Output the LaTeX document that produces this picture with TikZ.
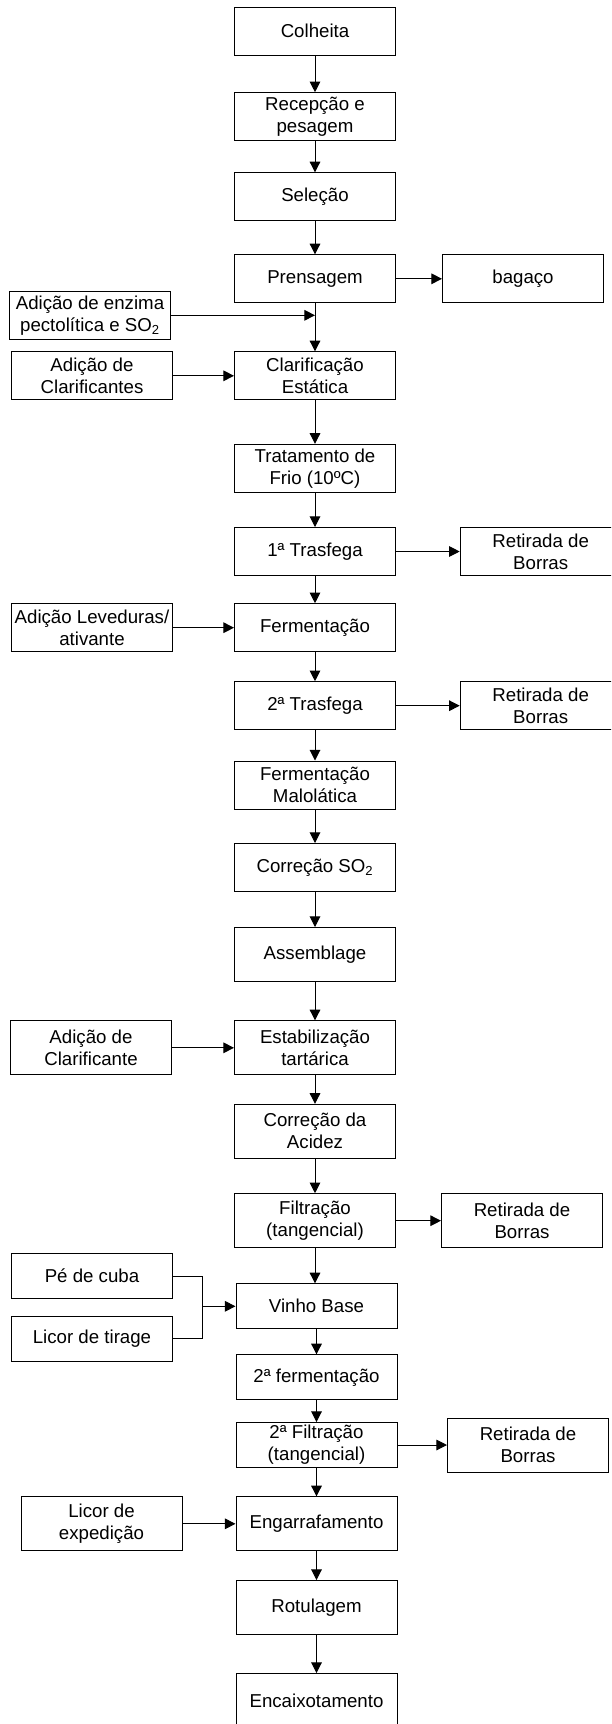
\documentclass[tikz,border=0pt]{standalone}
\usepackage{fontspec}
\setmainfont{Liberation Sans}
\usetikzlibrary{arrows.meta}

\begin{document}
\begin{tikzpicture}[x=0.75pt, y=-0.75pt,
    caixa/.style={draw, line width=0.75pt, minimum width=120.75pt, minimum height=36pt,
        align=center, inner sep=1pt, font=\fontsize{14}{16.5}\selectfont},
    alta/.style={minimum height=40.5pt},
    baixa/.style={minimum height=33.75pt},
    seta/.style={-{Triangle[length=8pt, width=8pt]}, line width=0.75pt},
    linha/.style={line width=0.75pt}]
    \useasboundingbox (0,0) rectangle (611,1724);
    \clip (0,0) rectangle (611,1724);

    % Etapas principais
    \node[caixa] (colheita) at (315,31.3) {Colheita};
    \node[caixa] (recepcao) at (315,116.7) {Recepção e\\pesagem};
    \node[caixa] (selecao) at (315,196.8) {Seleção};
    \node[caixa] (prensagem) at (315,278.8) {Prensagem};
    \node[caixa] (clarificacao) at (315,375.8) {Clarificação\\Estática};
    \node[caixa] (frio) at (315,468.3) {Tratamento de\\Frio (10ºC)};
    \node[caixa] (trasfega1) at (315,551.5) {1ª Trasfega};
    \node[caixa] (fermentacao) at (315,627.7) {Fermentação};
    \node[caixa] (trasfega2) at (315,705.7) {2ª Trasfega};
    \node[caixa] (malolatica) at (315,785) {Fermentação\\Malolática};
    \node[caixa] (correcaoso) at (315,867.5) {Correção SO\textsubscript{2}};
    \node[caixa, alta] (assemblage) at (315,954.5) {Assemblage};
    \node[caixa, alta] (estabilizacao) at (315,1047.8) {Estabilização\\tartárica};
    \node[caixa, alta] (acidez) at (315,1131.3) {Correção da\\Acidez};
    \node[caixa, alta] (filtracao) at (315,1220.7) {Filtração\\(tangencial)};
    \node[caixa, baixa] (vinhobase) at (316.5,1306.3) {Vinho Base};
    \node[caixa, baixa] (fermentacao2) at (316.5,1377.3) {2ª fermentação};
    \node[caixa, baixa] (filtracao2) at (316.5,1445) {2ª Filtração\\(tangencial)};
    \node[caixa, alta] (engarrafamento) at (316.5,1523.8) {Engarrafamento};
    \node[caixa, alta] (rotulagem) at (316.5,1607.5) {Rotulagem};
    \node[caixa, alta] (encaixotamento) at (316.5,1700.5) {Encaixotamento};

    % Entradas
    \node[caixa] (enzima) at (90,315.3) {Adição de enzima\\pectolítica e SO\textsubscript{2}};
    \node[caixa] (clarificantes) at (92,375.8) {Adição de\\Clarificantes};
    \node[caixa] (leveduras) at (92,627.7) {Adição Leveduras/\\ativante};
    \node[caixa, alta] (clarificante) at (91,1047.8) {Adição de\\Clarificante};
    \node[caixa, baixa] (pecuba) at (92,1276.2) {Pé de cuba};
    \node[caixa, baixa] (tirage) at (92,1338.8) {Licor de tirage};
    \node[caixa, alta] (expedicao) at (101.5,1523.8) {Licor de\\expedição};

    % Saidas
    \node[caixa] (bagaco) at (523,278.8) {bagaço};
    \node[caixa] (borras1) at (540.7,551.5) {Retirada de\\Borras};
    \node[caixa] (borras2) at (540.7,705.7) {Retirada de\\Borras};
    \node[caixa, alta] (borras3) at (522,1220.7) {Retirada de\\Borras};
    \node[caixa, alta] (borras4) at (528,1445) {Retirada de\\Borras};

    % Fluxo principal
    \foreach \a/\b in {colheita/recepcao, recepcao/selecao, selecao/prensagem,
        prensagem/clarificacao, clarificacao/frio, frio/trasfega1, trasfega1/fermentacao,
        fermentacao/trasfega2, trasfega2/malolatica, malolatica/correcaoso,
        correcaoso/assemblage, assemblage/estabilizacao, estabilizacao/acidez,
        acidez/filtracao, vinhobase/fermentacao2,
        fermentacao2/filtracao2, filtracao2/engarrafamento,
        engarrafamento/rotulagem, rotulagem/encaixotamento}
        \draw[seta] (\a.south) -- (\b.north);
    \draw[seta] (filtracao.south) -- (filtracao.south |- vinhobase.north);

    % Entradas laterais
    \draw[seta] (enzima.east) -- (enzima.east -| prensagem.south);
    \draw[seta] (clarificantes.east) -- (clarificacao.west);
    \draw[seta] (leveduras.east) -- (fermentacao.west);
    \draw[seta] (clarificante.east) -- (estabilizacao.west);
    \draw[seta] (expedicao.east) -- (engarrafamento.west);
    \coordinate (juncao) at (202.3,1306.3);
    \draw[linha] (pecuba.east) -| (juncao);
    \draw[linha] (tirage.east) -| (juncao);
    \draw[seta] (juncao) -- (vinhobase.west);

    % Saidas laterais
    \draw[seta] (prensagem.east) -- (bagaco.west);
    \draw[seta] (trasfega1.east) -- (borras1.west);
    \draw[seta] (trasfega2.east) -- (borras2.west);
    \draw[seta] (filtracao.east) -- (borras3.west);
    \draw[seta] (filtracao2.east) -- (borras4.west);
\end{tikzpicture}
\end{document}
